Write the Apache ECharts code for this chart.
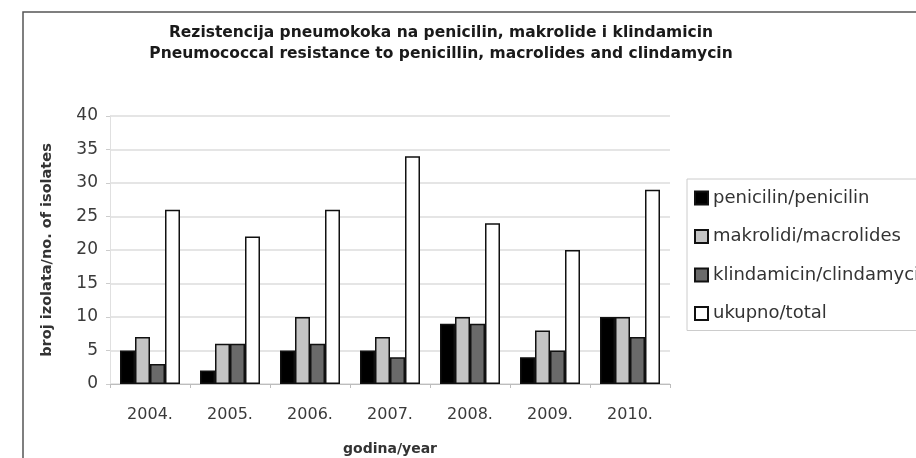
<!DOCTYPE html>
<html>
<head>
<meta charset="utf-8">
<title>Rezistencija pneumokoka</title>
<script src="https://cdn.jsdelivr.net/npm/echarts@6/dist/echarts.min.js"></script>
<style>
  html, body { margin: 0; padding: 0; background: #fff; }
  #chart { width: 916px; height: 458px; }
</style>
</head>
<body>
<div id="chart"></div>
<script>
// Years of surveillance
const years = ['2004.', '2005.', '2006.', '2007.', '2008.', '2009.', '2010.'];

// Number of resistant isolates per year
const penicilin = [5, 2, 5, 5, 9, 4, 10];
const makrolidi = [7, 6, 10, 7, 10, 8, 10];
const klindamicin = [3, 6, 6, 4, 9, 5, 7];
const ukupno = [26, 22, 26, 34, 24, 20, 29];

const seriesNames = [
  'penicilin/penicilin',
  'makrolidi/macrolides',
  'klindamicin/clindamycin',
  'ukupno/total'
];
const seriesData = [penicilin, makrolidi, klindamicin, ukupno];
const fills = ['#000000', '#c4c4c4', '#6a6a6a', '#ffffff'];

const FONT = 'DejaVu Sans';

const chart = echarts.init(document.getElementById('chart'));

chart.setOption({
  backgroundColor: '#ffffff',
  animation: false,
  title: {
    text: 'Rezistencija pneumokoka na penicilin, makrolide i klindamicin\nPneumococcal resistance to penicillin, macrolides and clindamycin',
    left: 441,
    top: 22,
    padding: 0,
    textAlign: 'center',
    textStyle: {
      fontFamily: FONT,
      fontSize: 15.5,
      fontWeight: 'bold',
      color: '#1a1a1a',
      lineHeight: 21
    }
  },
  legend: {
    orient: 'vertical',
    left: 687,
    top: 179,
    padding: [10, 10, 8, 7],
    itemGap: 20.5,
    itemWidth: 13,
    itemHeight: 13,
    icon: 'rect',
    borderColor: '#cccccc',
    borderWidth: 1,
    textStyle: {
      fontFamily: FONT,
      fontSize: 18,
      color: '#333'
    },
    data: seriesNames
  },
  grid: {
    left: 110,
    right: 246,
    top: 116,
    bottom: 74,
    outerBoundsMode: 'none'
  },
  xAxis: {
    type: 'category',
    data: years,
    name: 'godina/year',
    nameLocation: 'middle',
    nameGap: 58,
    nameTextStyle: {
      fontFamily: FONT,
      fontSize: 14,
      fontWeight: 'bold',
      color: '#333'
    },
    axisLine: { lineStyle: { color: '#bdbdbd', width: 1 } },
    axisTick: { show: true, length: 4, lineStyle: { color: '#bdbdbd' } },
    axisLabel: {
      fontFamily: FONT,
      fontSize: 16,
      color: '#3a3a3a',
      margin: 23
    }
  },
  yAxis: {
    type: 'value',
    min: 0,
    max: 40,
    interval: 5,
    name: 'broj izolata/no. of isolates',
    nameLocation: 'middle',
    nameGap: 55,
    nameTextStyle: {
      fontFamily: FONT,
      fontSize: 14.5,
      fontWeight: 'bold',
      color: '#333'
    },
    axisLine: { show: true, lineStyle: { color: '#e0e0e0' } },
    axisTick: { show: true, length: 4, lineStyle: { color: '#cccccc' } },
    splitLine: { lineStyle: { color: '#dcdcdc', width: 1.5 } },
    axisLabel: {
      fontFamily: FONT,
      fontSize: 17,
      color: '#3a3a3a',
      margin: 12
    }
  },
  series: seriesNames.map((name, i) => ({
    name: name,
    type: 'bar',
    data: seriesData[i],
    barGap: '0%',
    barCategoryGap: '25%',
    itemStyle: {
      color: fills[i],
      borderColor: '#111111',
      borderWidth: 1.5
    }
  })),
  graphic: [
    {
      // frame around the figure
      type: 'polyline',
      shape: { points: [[916, 12], [23, 12], [23, 458]] },
      style: { stroke: '#555555', lineWidth: 1.5, fill: null },
      silent: true
    }
  ]
});
</script>
</body>
</html>
